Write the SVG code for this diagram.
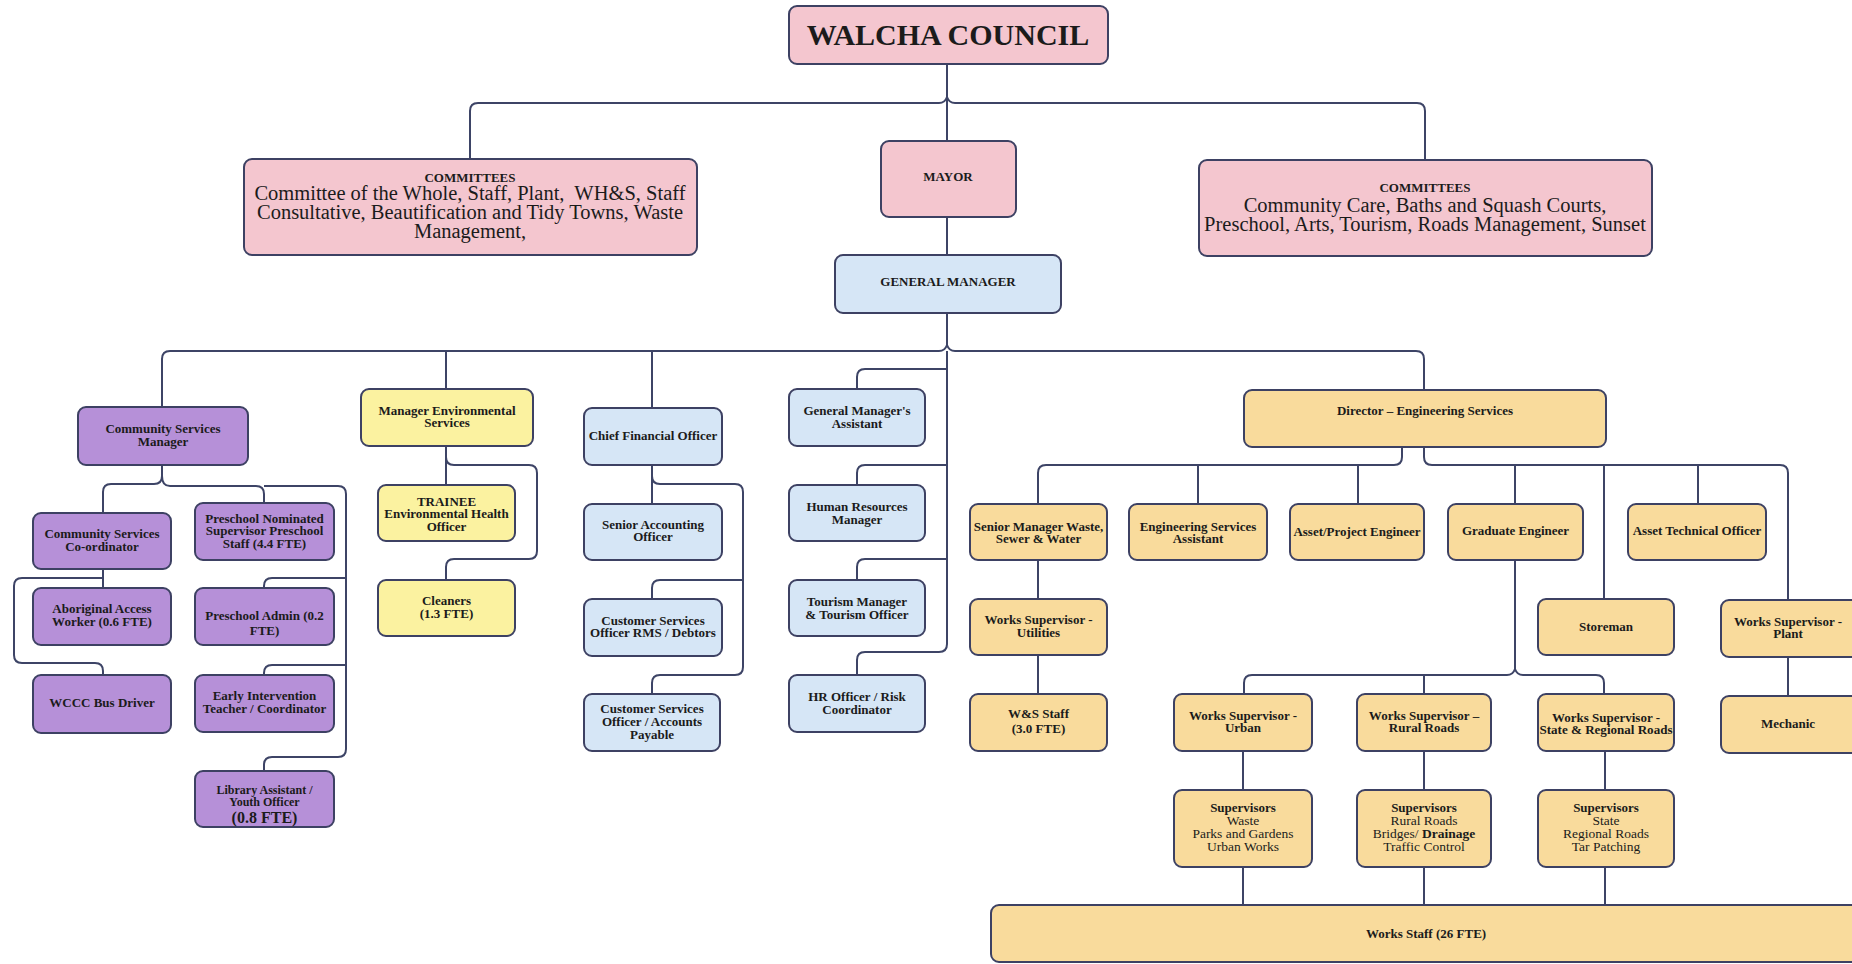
<svg xmlns="http://www.w3.org/2000/svg" width="1852" height="964" viewBox="0 0 1852 964">
<style>
.b{stroke:#3d4163;stroke-width:2}
.pk{fill:#f4c6cf}.bl{fill:#d6e6f6}.pu{fill:#b690d8}.ly{fill:#fbf2a0}.or{fill:#f9db9c}
.t{font-family:"Liberation Serif",serif;font-weight:bold;font-size:13px;text-anchor:middle;fill:#1b1b1b}
.r{font-family:"Liberation Serif",serif;font-size:20.5px;text-anchor:middle;fill:#1b1b1b}
.s{font-family:"Liberation Serif",serif;font-size:13.5px;text-anchor:middle;fill:#1b1b1b}
.c{fill:none;stroke:#3d4466;stroke-width:2}
</style>
<rect width="1852" height="964" fill="#ffffff"/>
<g id="connectors" class="c">
<path d="M947,64V141M947,217V255"/>
<path d="M470,159V111Q470,103 478,103H939Q945,103 947,97Q949,103 955,103H1417Q1425,103 1425,111V160"/>
<path d="M947,313V345M162,407V359Q162,351 170,351H939Q945,351 947,345Q949,351 955,351H1416Q1424,351 1424,359V390"/>
<path d="M446,351V389M652,351V408"/>
<path d="M947,351V644Q947,652 939,652H865Q857,652 857,660V675"/>
<path d="M947,369H865Q857,369 857,377V389M947,465H865Q857,465 857,473V485M947,559H865Q857,559 857,567V580"/>
<path d="M162,465V476Q162,484 154,484H111Q103,484 103,492V513"/>
<path d="M162,476Q162,486 170,486H256Q264,486 264,494V503M264,486H338Q346,486 346,494V749Q346,757 338,757H272Q264,757 264,765V771"/>
<path d="M346,578H272Q264,578 264,586V588M346,665H272Q264,665 264,673V675"/>
<path d="M103,569V588M103,578H22Q14,578 14,586V655Q14,663 22,663H95Q103,663 103,671V675"/>
<path d="M446,446V485M446,457Q446,465 454,465H529Q537,465 537,473V551Q537,559 529,559H454Q446,559 446,567V580"/>
<path d="M652,465V504M652,476Q652,484 660,484H735Q743,484 743,492V667Q743,675 735,675H660Q652,675 652,683V694M743,580H660Q652,580 652,588V599"/>
<path d="M1402,447V457Q1402,465 1394,465H1046Q1038,465 1038,473V504M1198,465V504M1358,465V504"/>
<path d="M1424,447V457Q1424,465 1432,465H1780Q1788,465 1788,473V600M1515,465V504M1604,465V599M1698,465V504"/>
<path d="M1038,560V599M1038,655V694M1788,657V696"/>
<path d="M1515,560V669M1244,694V683Q1244,675 1252,675H1507Q1513,675 1515,669Q1517,675 1523,675H1596Q1604,675 1604,683V694M1424,675V694"/>
<path d="M1243,751V790M1424,751V790M1605,751V790M1243,867V905M1424,867V905M1605,867V905"/>
</g>
<g id="walcha"><rect class="b pk" x="789" y="6" width="319" height="58" rx="8"/><text class="t" x="948" y="45" style="font-size:30px">WALCHA COUNCIL</text></g>
<g id="committees-left"><rect class="b pk" x="244" y="159" width="453" height="96" rx="8"/><text class="t" x="470" y="182">COMMITTEES</text><text class="r" x="470" y="200" xml:space="preserve">Committee of the Whole, Staff, Plant,  WH&amp;S, Staff</text><text class="r" x="470" y="219">Consultative, Beautification and Tidy Towns, Waste</text><text class="r" x="470" y="238">Management,</text></g>
<g id="mayor"><rect class="b pk" x="881" y="141" width="135" height="76" rx="8"/><text class="t" x="948" y="181">MAYOR</text></g>
<g id="committees-right"><rect class="b pk" x="1199" y="160" width="453" height="96" rx="8"/><text class="t" x="1425" y="192">COMMITTEES</text><text class="r" x="1425" y="212">Community Care, Baths and Squash Courts,</text><text class="r" x="1425" y="231">Preschool, Arts, Tourism, Roads Management, Sunset</text></g>
<g id="general-manager"><rect class="b bl" x="835" y="255" width="226" height="58" rx="8"/><text class="t" x="948" y="286">GENERAL MANAGER</text></g>
<g id="cs-manager"><rect class="b pu" x="78" y="407" width="170" height="58" rx="8"/><text class="t" x="163" y="433">Community Services</text><text class="t" x="163" y="446">Manager</text></g>
<g id="cs-coordinator"><rect class="b pu" x="33" y="513" width="138" height="56" rx="8"/><text class="t" x="102" y="538">Community Services</text><text class="t" x="102" y="551">Co-ordinator</text></g>
<g id="preschool-nominated"><rect class="b pu" x="195" y="503" width="139" height="57" rx="8"/><text class="t" x="264.5" y="523">Preschool Nominated</text><text class="t" x="264.5" y="535">Supervisor Preschool</text><text class="t" x="264.5" y="548">Staff (4.4 FTE)</text></g>
<g id="aboriginal"><rect class="b pu" x="33" y="588" width="138" height="57" rx="8"/><text class="t" x="102" y="613">Aboriginal Access</text><text class="t" x="102" y="626">Worker (0.6 FTE)</text></g>
<g id="preschool-admin"><rect class="b pu" x="195" y="588" width="139" height="57" rx="8"/><text class="t" x="264.5" y="620">Preschool Admin (0.2</text><text class="t" x="264.5" y="635">FTE)</text></g>
<g id="wccc"><rect class="b pu" x="33" y="675" width="138" height="58" rx="8"/><text class="t" x="102" y="707">WCCC Bus Driver</text></g>
<g id="early-intervention"><rect class="b pu" x="195" y="675" width="139" height="57" rx="8"/><text class="t" x="264.5" y="700">Early Intervention</text><text class="t" x="264.5" y="713">Teacher / Coordinator</text></g>
<g id="library"><rect class="b pu" x="195" y="771" width="139" height="56" rx="8"/><text class="t" x="264.5" y="794" style="font-size:12px">Library Assistant /</text><text class="t" x="264.5" y="806" style="font-size:12px">Youth Officer</text><text class="t" x="264.5" y="823" style="font-size:16px">(0.8 FTE)</text></g>
<g id="env-manager"><rect class="b ly" x="361" y="389" width="172" height="57" rx="8"/><text class="t" x="447" y="415">Manager Environmental</text><text class="t" x="447" y="427">Services</text></g>
<g id="trainee"><rect class="b ly" x="378" y="485" width="137" height="56" rx="8"/><text class="t" x="446.5" y="506">TRAINEE</text><text class="t" x="446.5" y="518">Environmental Health</text><text class="t" x="446.5" y="531">Officer</text></g>
<g id="cleaners"><rect class="b ly" x="378" y="580" width="137" height="56" rx="8"/><text class="t" x="446.5" y="605">Cleaners</text><text class="t" x="446.5" y="618">(1.3 FTE)</text></g>
<g id="cfo"><rect class="b bl" x="584" y="408" width="138" height="57" rx="8"/><text class="t" x="653" y="440">Chief Financial Officer</text></g>
<g id="senior-accounting"><rect class="b bl" x="584" y="504" width="138" height="56" rx="8"/><text class="t" x="653" y="529">Senior Accounting</text><text class="t" x="653" y="541">Officer</text></g>
<g id="cso-rms"><rect class="b bl" x="584" y="599" width="138" height="57" rx="8"/><text class="t" x="653" y="625">Customer Services</text><text class="t" x="653" y="637">Officer RMS / Debtors</text></g>
<g id="cso-ap"><rect class="b bl" x="584" y="694" width="136" height="57" rx="8"/><text class="t" x="652" y="713">Customer Services</text><text class="t" x="652" y="726">Officer / Accounts</text><text class="t" x="652" y="739">Payable</text></g>
<g id="gm-assistant"><rect class="b bl" x="789" y="389" width="136" height="57" rx="8"/><text class="t" x="857" y="415">General Manager's</text><text class="t" x="857" y="428">Assistant</text></g>
<g id="hr-manager"><rect class="b bl" x="789" y="485" width="136" height="56" rx="8"/><text class="t" x="857" y="511">Human Resources</text><text class="t" x="857" y="524">Manager</text></g>
<g id="tourism"><rect class="b bl" x="789" y="580" width="136" height="56" rx="8"/><text class="t" x="857" y="606">Tourism Manager</text><text class="t" x="857" y="619">&amp; Tourism Officer</text></g>
<g id="hr-officer"><rect class="b bl" x="789" y="675" width="136" height="57" rx="8"/><text class="t" x="857" y="701">HR Officer / Risk</text><text class="t" x="857" y="714">Coordinator</text></g>
<g id="director"><rect class="b or" x="1244" y="390" width="362" height="57" rx="8"/><text class="t" x="1425" y="415">Director – Engineering Services</text></g>
<g id="sm-waste"><rect class="b or" x="970" y="504" width="137" height="56" rx="8"/><text class="t" x="1038.5" y="531">Senior Manager Waste,</text><text class="t" x="1038.5" y="543">Sewer &amp; Water</text></g>
<g id="eng-assistant"><rect class="b or" x="1129" y="504" width="138" height="56" rx="8"/><text class="t" x="1198" y="531">Engineering Services</text><text class="t" x="1198" y="543">Assistant</text></g>
<g id="asset-project"><rect class="b or" x="1290" y="504" width="134" height="56" rx="8"/><text class="t" x="1357" y="536">Asset/Project Engineer</text></g>
<g id="graduate"><rect class="b or" x="1448" y="504" width="135" height="56" rx="8"/><text class="t" x="1515.5" y="535">Graduate Engineer</text></g>
<g id="asset-technical"><rect class="b or" x="1628" y="504" width="138" height="56" rx="8"/><text class="t" x="1697" y="535">Asset Technical Officer</text></g>
<g id="ws-utilities"><rect class="b or" x="970" y="599" width="137" height="56" rx="8"/><text class="t" x="1038.5" y="624">Works Supervisor -</text><text class="t" x="1038.5" y="637">Utilities</text></g>
<g id="storeman"><rect class="b or" x="1538" y="599" width="136" height="56" rx="8"/><text class="t" x="1606" y="631">Storeman</text></g>
<g id="ws-plant"><rect class="b or" x="1721" y="600" width="140" height="57" rx="8"/><text class="t" x="1788" y="626">Works Supervisor -</text><text class="t" x="1788" y="638">Plant</text></g>
<g id="ws-staff"><rect class="b or" x="970" y="694" width="137" height="57" rx="8"/><text class="t" x="1038.5" y="718">W&amp;S Staff</text><text class="t" x="1038.5" y="733">(3.0 FTE)</text></g>
<g id="ws-urban"><rect class="b or" x="1174" y="694" width="138" height="57" rx="8"/><text class="t" x="1243" y="720">Works Supervisor -</text><text class="t" x="1243" y="732">Urban</text></g>
<g id="ws-rural"><rect class="b or" x="1357" y="694" width="134" height="57" rx="8"/><text class="t" x="1424" y="720">Works Supervisor –</text><text class="t" x="1424" y="732">Rural Roads</text></g>
<g id="ws-state"><rect class="b or" x="1538" y="694" width="136" height="57" rx="8"/><text class="t" x="1606" y="722">Works Supervisor -</text><text class="t" x="1606" y="734" textLength="133" lengthAdjust="spacingAndGlyphs">State &amp; Regional Roads</text></g>
<g id="mechanic"><rect class="b or" x="1721" y="696" width="140" height="57" rx="8"/><text class="t" x="1788" y="728">Mechanic</text></g>
<g id="sup-urban"><rect class="b or" x="1174" y="790" width="138" height="77" rx="8"/><text class="t" x="1243" y="812">Supervisors</text><text class="s" x="1243" y="825">Waste</text><text class="s" x="1243" y="838">Parks and Gardens</text><text class="s" x="1243" y="851">Urban Works</text></g>
<g id="sup-rural"><rect class="b or" x="1357" y="790" width="134" height="77" rx="8"/><text class="t" x="1424" y="812">Supervisors</text><text class="s" x="1424" y="825">Rural Roads</text><text class="s" x="1424" y="838">Bridges/ <tspan font-weight="bold">Drainage</tspan></text><text class="s" x="1424" y="851">Traffic Control</text></g>
<g id="sup-state"><rect class="b or" x="1538" y="790" width="136" height="77" rx="8"/><text class="t" x="1606" y="812">Supervisors</text><text class="s" x="1606" y="825">State</text><text class="s" x="1606" y="838">Regional Roads</text><text class="s" x="1606" y="851">Tar Patching</text></g>
<g id="works-staff"><rect class="b or" x="991" y="905" width="880" height="57" rx="8"/><text class="t" x="1426" y="938">Works Staff (26 FTE)</text></g>
</svg>
